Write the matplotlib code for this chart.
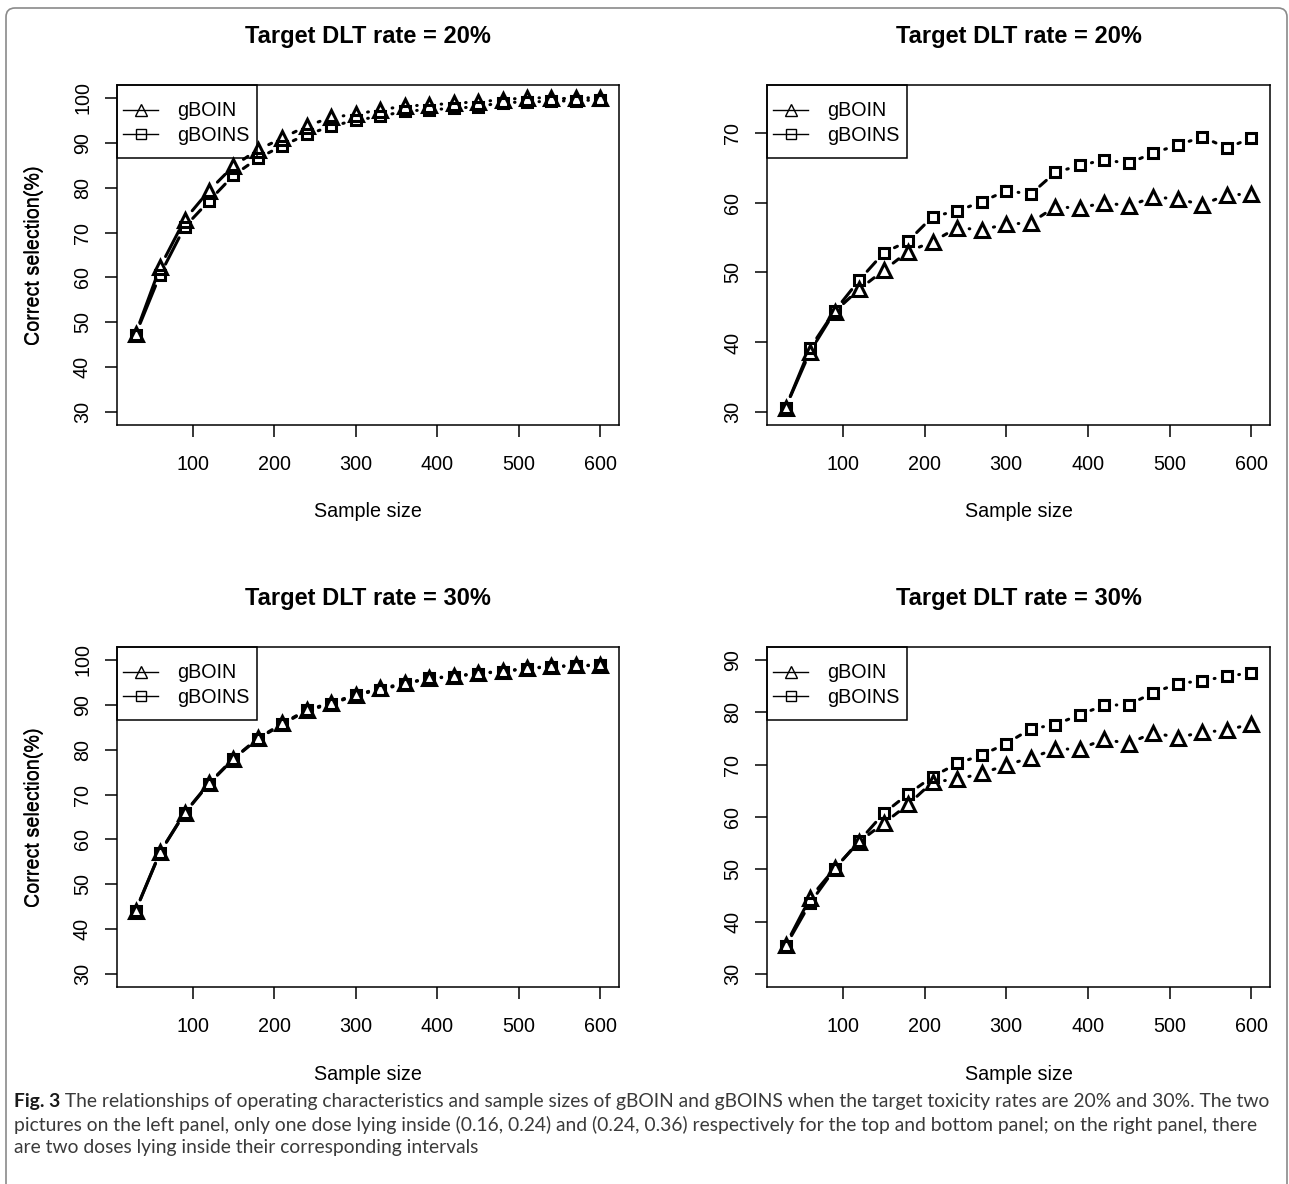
import numpy as np
import matplotlib
matplotlib.use("Agg")
import matplotlib.pyplot as plt
from matplotlib.lines import Line2D
from matplotlib.collections import LineCollection
from matplotlib.patches import FancyBboxPatch, Rectangle
from matplotlib.transforms import IdentityTransform

# ---------------- data ----------------
sample_size = [30, 60, 90, 120, 150, 180, 210, 240, 270, 300,
               330, 360, 390, 420, 450, 480, 510, 540, 570, 600]

tl_gboin = [47.5, 62.3, 72.8, 79.3, 84.8, 88.4, 91.0, 93.7, 95.6, 96.3,
            97.3, 98.1, 98.4, 98.7, 99.1, 99.5, 100.0, 99.9, 99.9, 100.0]
tl_gboins = [47.3, 60.6, 71.2, 77.0, 82.7, 86.5, 89.3, 91.8, 93.6, 95.0,
             95.8, 97.0, 97.3, 97.6, 98.0, 98.9, 99.0, 99.2, 99.3, 99.5]

tr_gboin = [30.7, 38.7, 44.4, 47.6, 50.3, 53.0, 54.4, 56.4, 56.1, 56.9,
            57.1, 59.4, 59.2, 60.0, 59.5, 60.8, 60.5, 59.7, 61.1, 61.2]
tr_gboins = [30.7, 39.2, 44.5, 48.9, 52.8, 54.5, 58.0, 58.8, 60.1, 61.7,
             61.2, 64.3, 65.3, 66.1, 65.6, 67.1, 68.2, 69.4, 67.8, 69.2]

bl_gboin = [44.2, 57.2, 65.9, 72.5, 78.0, 82.5, 85.8, 88.8, 90.4, 92.2,
            93.6, 94.7, 95.9, 96.3, 97.0, 97.4, 98.1, 98.5, 98.7, 98.8]
bl_gboins = [44.1, 57.1, 65.8, 72.4, 77.9, 82.4, 85.6, 88.7, 90.1, 92.1,
             93.3, 94.6, 95.8, 96.2, 96.9, 97.3, 98.0, 98.4, 98.6, 98.7]

br_gboin = [35.6, 44.6, 50.2, 55.3, 58.8, 62.4, 66.7, 67.2, 68.3, 69.9,
            71.3, 72.9, 73.0, 74.8, 74.0, 76.1, 75.1, 76.2, 76.5, 77.8]
br_gboins = [35.4, 43.6, 50.1, 55.4, 60.7, 64.4, 67.7, 70.2, 71.8, 74.0,
             76.8, 77.6, 79.5, 81.3, 81.4, 83.7, 85.4, 86.0, 86.8, 87.5]

titles = ["Target DLT rate = 20%", "Target DLT rate = 20%",
          "Target DLT rate = 30%", "Target DLT rate = 30%"]
y_limits = [(30, 100), (30, 75), (30, 100), (30, 90)]
y_ticks = [[30, 40, 50, 60, 70, 80, 90, 100], [30, 40, 50, 60, 70],
           [30, 40, 50, 60, 70, 80, 90, 100], [30, 40, 50, 60, 70, 80, 90]]
x_ticks = [100, 200, 300, 400, 500, 600]
series_labels = ["gBOIN", "gBOINS"]
x_label = "Sample size"
y_label = "Correct selection(%)"
caption_bold = "Fig. 3"
caption_lines = [
    " The relationships of operating characteristics and sample sizes of gBOIN and gBOINS when the target toxicity rates are 20% and 30%. The two",
    "pictures on the left panel, only one dose lying inside (0.16, 0.24) and (0.24, 0.36) respectively for the top and bottom panel; on the right panel, there",
    "are two doses lying inside their corresponding intervals",
]

panels = [(tl_gboin, tl_gboins), (tr_gboin, tr_gboins),
          (bl_gboin, bl_gboins), (br_gboin, br_gboins)]

# ---------------- figure ----------------
W, H = 1289, 1184
DPI = 100
PLOT_FONT = ["Liberation Sans", "DejaVu Sans"]
plt.rcParams["font.family"] = list(PLOT_FONT)
fig = plt.figure(figsize=(W / DPI, H / DPI), dpi=DPI)
renderer = fig.canvas.get_renderer()

# axes boxes in pixels (left, top, right, bottom)
boxes = [(117, 85, 619, 425), (767, 85, 1270, 425),
         (117, 647, 619, 987), (767, 647, 1270, 987)]

LW = 2.2
FS = 14.2


def draw_type_b(ax, x, y, marker, ms, gap_px):
    ax.plot(x, y, linestyle="none", marker=marker, ms=ms, mfc="none",
            mec="black", mew=LW, zorder=3, clip_on=False)
    pts = ax.transData.transform(np.column_stack([x, y]))
    inv = ax.transData.inverted()
    segs = []
    for p, q in zip(pts[:-1], pts[1:]):
        d = q - p
        L = np.hypot(d[0], d[1])
        if L > 2 * gap_px:
            u = d / L
            a = p + u * gap_px
            b = q - u * gap_px
            segs.append(inv.transform(np.array([a, b])))
    ax.add_collection(LineCollection(segs, colors="black", linewidths=LW,
                                     capstyle="round", zorder=2))


for i, (box, (s1, s2)) in enumerate(zip(boxes, panels)):
    l, t, r, b = box
    ax = fig.add_axes([l / W, 1 - b / H, (r - l) / W, (b - t) / H])
    ylo, yhi = y_limits[i]
    ypad = (yhi - ylo) * 0.04
    xpad = (sample_size[-1] - sample_size[0]) * 0.04
    ax.set_xlim(sample_size[0] - xpad, sample_size[-1] + xpad)
    ax.set_ylim(ylo - ypad, yhi + ypad)
    ax.set_xticks(x_ticks)
    ax.set_yticks(y_ticks[i])
    for sp in ax.spines.values():
        sp.set_linewidth(1.1)
    ax.tick_params(axis="both", direction="out", length=8.5, width=1.1,
                   labelsize=FS, labelfontfamily=list(PLOT_FONT))
    ax.tick_params(axis="x", pad=13)
    ax.tick_params(axis="y", pad=9.5, labelrotation=90)
    for lab in ax.get_yticklabels():
        lab.set_verticalalignment("center")

    draw_type_b(ax, sample_size, s1, "^", 10, 12)
    draw_type_b(ax, sample_size, s2, "s", 7.5, 12)

    ax.set_title(titles[i], fontsize=17, fontweight="bold", pad=30,
                 family=list(PLOT_FONT))
    ax.set_xlabel(x_label, fontsize=FS, va="center", family=list(PLOT_FONT))
    ax.xaxis.set_label_coords(0.5, -87.0 / (b - t))
    ax.set_ylabel(y_label, fontsize=FS, va="center", family=list(PLOT_FONT))
    ax.yaxis.set_label_coords((34 - l) / (r - l), 0.5)

    handles = [Line2D([], [], color="black", lw=1.0, marker="^", ms=8,
                      mfc="none", mec="black", mew=1.0),
               Line2D([], [], color="black", lw=1.0, marker="s", ms=6.5,
                      mfc="none", mec="black", mew=1.0)]
    shift_top = 10.5     # px, extra top padding of the R-style legend box
    shift_bottom = 7.5   # px, extra bottom padding
    leg = ax.legend(handles, series_labels, loc="upper left",
                    prop={"family": list(PLOT_FONT), "size": FS},
                    bbox_to_anchor=(0, 1 - shift_top / (b - t)),
                    borderaxespad=0, frameon=False, borderpad=0.3,
                    labelspacing=0.27, handlelength=1.8, handletextpad=0.95)
    ext = leg.get_window_extent(renderer)
    x_left = l
    y_top = H - t
    frame = Rectangle((x_left, ext.y0 - shift_bottom), ext.x1 + 2 - x_left,
                      y_top - (ext.y0 - shift_bottom),
                      transform=IdentityTransform(), fill=False,
                      edgecolor="black", linewidth=1.1, clip_on=False,
                      zorder=4)
    ax.add_patch(frame)

# ---------------- border ----------------
border = FancyBboxPatch((6, -30), 1281, H - 8 + 30,
                        boxstyle="round,pad=0,rounding_size=9",
                        transform=IdentityTransform(), fill=False,
                        edgecolor="#8a8a8a", linewidth=1.2)
fig.patches.append(border)

# ---------------- caption ----------------
cap_font = ["Lato", "Open Sans", "DejaVu Sans"]
cap_color = "#3a3a3a"
x0, x1 = 14, 1278
fs = 13.0
# fit font size so the first caption line spans the text block width
for _ in range(4):
    tb = fig.text(0, 0, caption_bold, fontsize=fs, fontweight="bold",
                  family=list(cap_font))
    tr = fig.text(0, 0, caption_lines[0], fontsize=fs, family=list(cap_font))
    wb = tb.get_window_extent(renderer).width
    wr = tr.get_window_extent(renderer).width
    tb.remove(); tr.remove()
    fs = fs * (x1 - x0) / (wb + wr)

line_y = [1102, 1125, 1148]
tb = fig.text(x0 / W, 1 - line_y[0] / H, caption_bold, fontsize=fs,
              fontweight="bold", family=list(cap_font), va="center",
              color="#1a1a1a")
wb = tb.get_window_extent(renderer).width
fig.text((x0 + wb) / W, 1 - line_y[0] / H, caption_lines[0], fontsize=fs,
         family=list(cap_font), va="center", color=cap_color)
for ln, yy in zip(caption_lines[1:], line_y[1:]):
    fig.text(x0 / W, 1 - yy / H, ln, fontsize=fs, family=list(cap_font),
             va="center", color=cap_color)

fig.savefig("out.png", dpi=DPI)
